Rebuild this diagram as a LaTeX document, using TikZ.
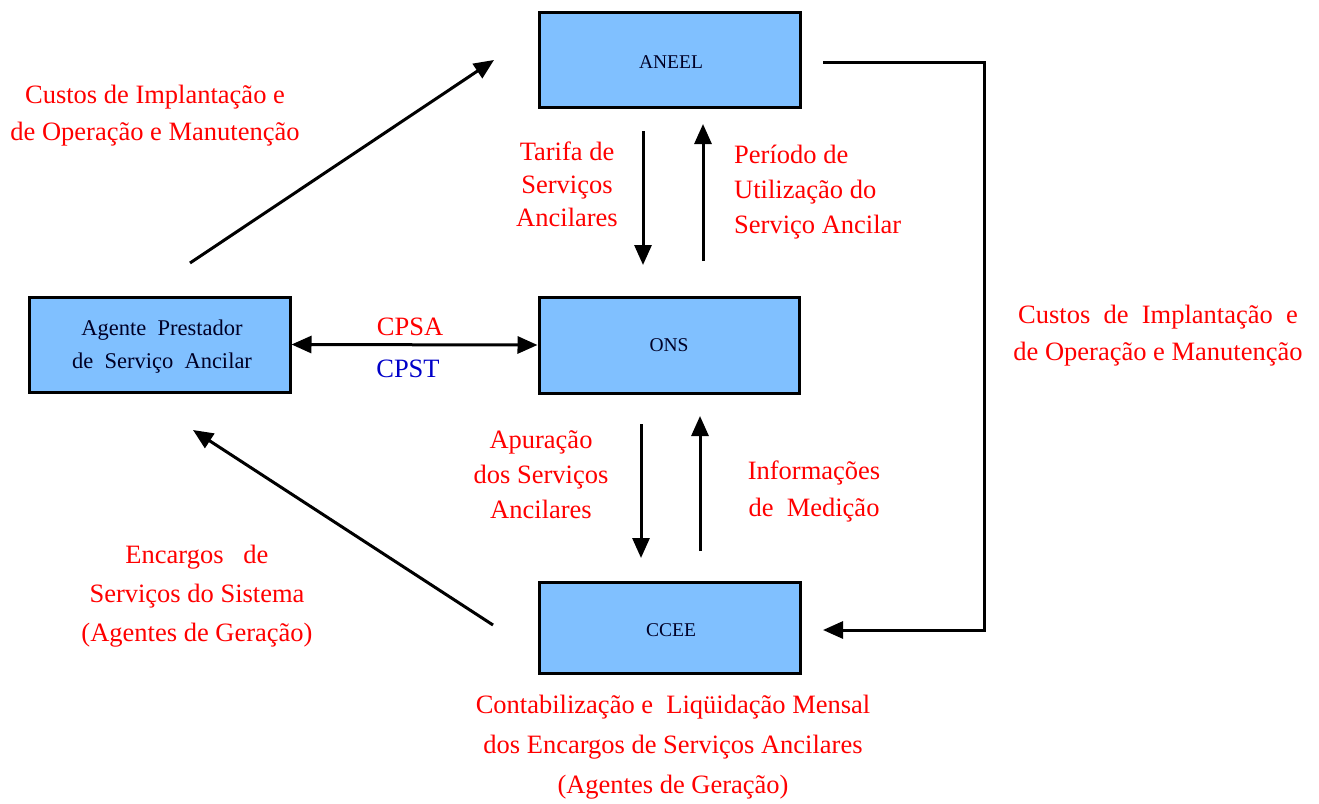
\documentclass[tikz,border=0pt]{standalone}
\usepackage{fontspec}
\setmainfont{Liberation Serif}
\usetikzlibrary{arrows.meta}
\definecolor{boxblue}{RGB}{128,192,255}
\definecolor{lblred}{RGB}{255,0,0}
\definecolor{lblblue}{RGB}{0,0,200}
\tikzset{
  agentbox/.style={draw=black, line width=3pt, fill=boxblue, inner sep=0pt},
  boxtext/.style={font=\fontsize{19.5}{24}\selectfont, text=black!85!blue},
  lbl/.style={text=lblred, font=\fontsize{26.5}{37}\selectfont, inner sep=0pt},
  conn/.style={line width=3pt, -{Triangle[length=20pt,width=17pt]}},
  bconn/.style={line width=3pt, {Triangle[length=20pt,width=17pt]}-{Triangle[length=20pt,width=17pt]}},
  plain/.style={line width=3pt}
}
\begin{document}
\begin{tikzpicture}[x=1pt,y=-1pt]
\useasboundingbox (0,0) rectangle (1319,803);
% boxes
\node[agentbox, minimum width=261pt, minimum height=95pt] (aneel) at (669.5,59.5) {};
\node[boxtext] at (671,62) {ANEEL};
\node[agentbox, minimum width=261pt, minimum height=95pt] (agent) at (159.5,344.5) {};
\node[boxtext, font=\fontsize{22.5}{33}\selectfont, align=center, inner sep=0pt] at (162,347) {Agente\ \ Prestador\\de\ \ Serviço\ \ Ancilar};
\node[agentbox, minimum width=260pt, minimum height=96pt] (ons) at (669,345) {};
\node[boxtext] at (ons.center) {ONS};
\node[agentbox, minimum width=261pt, minimum height=91pt] (ccee) at (669.5,627.5) {};
\node[boxtext] at (671,630) {CCEE};
% coordinates
\coordinate (d1s) at (190,263);
\coordinate (d1e) at (494,60);
\coordinate (d2s) at (493,625);
\coordinate (d2e) at (193,430);
\coordinate (v1s) at (643,131);
\coordinate (v1e) at (643,265);
\coordinate (v2s) at (703,261);
\coordinate (v2e) at (703,124);
\coordinate (v3s) at (641,424);
\coordinate (v3e) at (641,558);
\coordinate (v4s) at (700,551);
\coordinate (v4e) at (700,416);
\coordinate (r1) at (823,62);
\coordinate (r2) at (984,62);
\coordinate (r3) at (984,630);
\coordinate (r4) at (823,630);
% connectors
\draw[conn] (d1s) -- (d1e);
\draw[conn] (d2s) -- (d2e);
\draw[conn] (v1s) -- (v1e);
\draw[conn] (v2s) -- (v2e);
\draw[conn] (v3s) -- (v3e);
\draw[conn] (v4s) -- (v4e);
\draw[bconn] (agent.east) -- (ons.west);
\draw[conn, line join=miter] (r1) -- (r2) -- (r3) -- (r4);
% labels
\node[lbl, align=center] (l1) at (155,116) {Custos de Implantação e\\de Operação e Manutenção};
\node[lbl, align=center, font=\fontsize{26.5}{33}\selectfont] (l2) at (567,184) {Tarifa de\\Serviços\\Ancilares};
\node[lbl, align=left, anchor=west, font=\fontsize{26.5}{35}\selectfont] (l3) at (734,192) {Período de\\Utilização do\\Serviço Ancilar};
\node[lbl, align=center] (l4) at (1158,336) {Custos\ \ de\ \ Implantação\ \ e\\de Operação e Manutenção};
\node[lbl] (cpsa) at (410,327) {CPSA};
\node[lbl, text=lblblue] (cpst) at (408,369) {CPST};
\node[lbl, align=center, font=\fontsize{26.5}{35}\selectfont] (l5) at (541,475) {Apuração\\dos Serviços\\Ancilares};
\node[lbl, align=center] (l6) at (814,491) {Informações\\de\ \ Medição};
\node[lbl, align=center, font=\fontsize{26.5}{39}\selectfont] (l7) at (197,596) {Encargos\ \ \ de\\Serviços do Sistema\\(Agentes de Geração)};
\node[lbl, align=center, font=\fontsize{26.5}{40}\selectfont] (l8) at (673,747) {Contabilização e\ \ Liqüidação Mensal\\dos Encargos de Serviços Ancilares\\(Agentes de Geração)};
\end{tikzpicture}
\end{document}
